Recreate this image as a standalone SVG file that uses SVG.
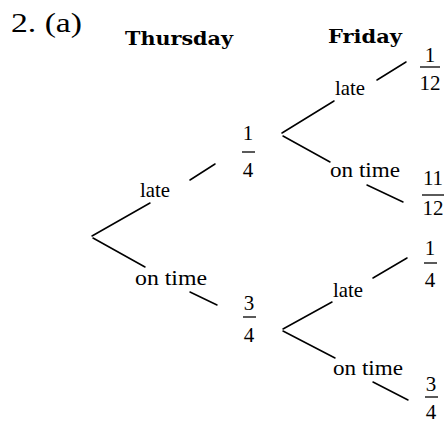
<svg xmlns="http://www.w3.org/2000/svg" width="446" height="423" viewBox="0 0 446 423">
<style>
.t{font-family:"Liberation Serif","Times New Roman",serif;font-size:21px;fill:#000}
.ti{font-family:"Liberation Serif","Times New Roman",serif;font-size:27px;fill:#000}
.h{font-family:"DejaVu Serif","Liberation Serif",serif;font-size:18px;font-weight:bold;fill:#000}
.n{font-family:"Liberation Serif","Times New Roman",serif;font-size:21px;fill:#000;text-anchor:middle}
.c{stroke:#000;stroke-width:1.5;fill:none;stroke-linecap:round}
.b{stroke:#000;stroke-width:1.3;fill:none}
</style>
<rect width="446" height="423" fill="#fff"/>
<g id="title">
<text class="ti" x="11" y="32" textLength="71" lengthAdjust="spacingAndGlyphs">2. (a)</text>
</g>
<g id="hdr-thursday"><text class="h" x="125" y="45" textLength="108" lengthAdjust="spacingAndGlyphs">Thursday</text></g>
<g id="hdr-friday"><text class="h" x="328" y="43" textLength="74" lengthAdjust="spacingAndGlyphs">Friday</text></g>

<g id="connectors">
<line class="c" x1="92" y1="236" x2="150" y2="203"/>
<line class="c" x1="93" y1="238" x2="145" y2="267"/>
<line class="c" x1="190" y1="180" x2="215" y2="164"/>
<line class="c" x1="190" y1="292" x2="217" y2="305"/>
<line class="c" x1="282" y1="133" x2="334" y2="101"/>
<line class="c" x1="283" y1="136" x2="330" y2="162"/>
<line class="c" x1="377" y1="80" x2="406" y2="62"/>
<line class="c" x1="367" y1="185" x2="403" y2="202"/>
<line class="c" x1="283" y1="329" x2="332" y2="302"/>
<line class="c" x1="283" y1="331" x2="335" y2="358"/>
<line class="c" x1="373" y1="278" x2="407" y2="258"/>
<line class="c" x1="373" y1="382" x2="408" y2="400"/>
</g>

<g id="lbl-thu-late"><text class="t" x="140" y="197" textLength="30" lengthAdjust="spacingAndGlyphs">late</text></g>
<g id="lbl-thu-ontime"><text class="t" x="135" y="285" textLength="72" lengthAdjust="spacingAndGlyphs">on time</text></g>
<g id="lbl-fri1-late"><text class="t" x="335" y="95" textLength="30" lengthAdjust="spacingAndGlyphs">late</text></g>
<g id="lbl-fri1-ontime"><text class="t" x="330" y="177" textLength="70" lengthAdjust="spacingAndGlyphs">on time</text></g>
<g id="lbl-fri2-late"><text class="t" x="333" y="297" textLength="30" lengthAdjust="spacingAndGlyphs">late</text></g>
<g id="lbl-fri2-ontime"><text class="t" x="333" y="375" textLength="70" lengthAdjust="spacingAndGlyphs">on time</text></g>

<g id="frac-thu-late">
<text class="n" x="248" y="140">1</text>
<line class="b" x1="242" y1="152" x2="255" y2="152"/>
<text class="n" x="248" y="177">4</text>
</g>
<g id="frac-thu-ontime">
<text class="n" x="249" y="310">3</text>
<line class="b" x1="243" y1="317" x2="256" y2="317"/>
<text class="n" x="249" y="342">4</text>
</g>
<g id="frac-1-12">
<text class="n" x="430" y="62">1</text>
<line class="b" x1="420" y1="67" x2="440" y2="67"/>
<text class="n" x="430" y="90">12</text>
</g>
<g id="frac-11-12">
<text class="n" x="433" y="185">11</text>
<line class="b" x1="422" y1="195" x2="444" y2="195"/>
<text class="n" x="433" y="215">12</text>
</g>
<g id="frac-1-4">
<text class="n" x="430" y="255">1</text>
<line class="b" x1="424" y1="263" x2="437" y2="263"/>
<text class="n" x="430" y="287">4</text>
</g>
<g id="frac-3-4">
<text class="n" x="431" y="391">3</text>
<line class="b" x1="425" y1="397" x2="438" y2="397"/>
<text class="n" x="431" y="419">4</text>
</g>
</svg>
